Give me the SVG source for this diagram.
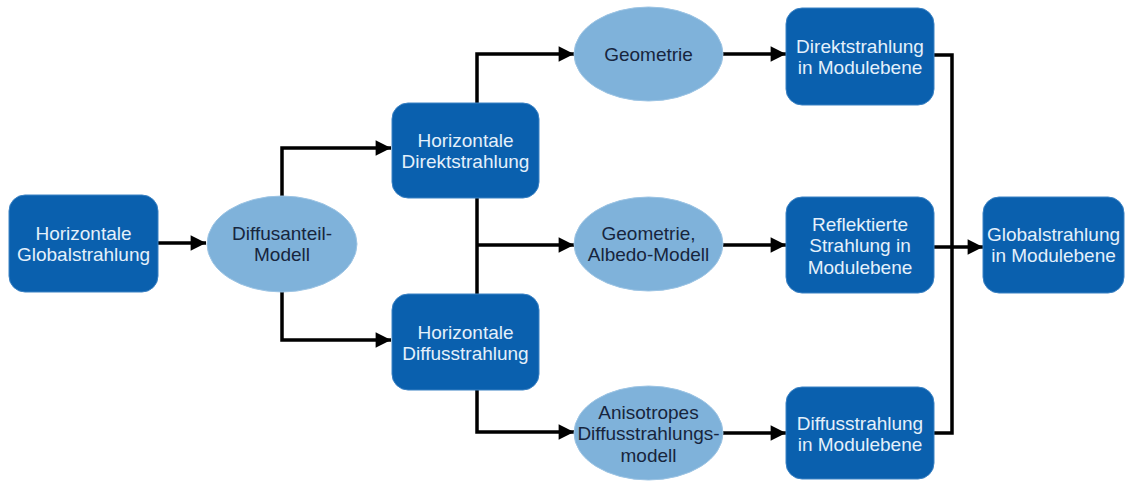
<svg xmlns="http://www.w3.org/2000/svg" width="1126" height="481" viewBox="0 0 1126 481">
<defs>
<style>
.box{fill:#0a60ae;stroke:#3b82c4;stroke-width:1}
.ell{fill:#7fb2da;stroke:#9cc4e4;stroke-width:1}
.bt{font-family:"Liberation Sans",Arial,sans-serif;font-size:19px;fill:#e4f0fb;text-anchor:middle}
.et{font-family:"Liberation Sans",Arial,sans-serif;font-size:19px;fill:#17253d;text-anchor:middle}
.c{fill:none;stroke:#000;stroke-width:3.5}
</style>
<marker id="ah" viewBox="0 0 10 10" refX="10" refY="5" markerWidth="5" markerHeight="4.4" markerUnits="strokeWidth" orient="auto">
<path d="M0,0 L10,5 L0,10 Z" fill="#000"/>
</marker>
</defs>
<rect width="1126" height="481" fill="#fff"/>
<g id="connectors">
<path class="c" d="M158,243 H206" marker-end="url(#ah)"/>
<path class="c" d="M282,197 V148 H391" marker-end="url(#ah)"/>
<path class="c" d="M282,290 V340 H391" marker-end="url(#ah)"/>
<path class="c" d="M477,103 V54 H574" marker-end="url(#ah)"/>
<path class="c" d="M477,198 V294"/>
<path class="c" d="M477,245 H574" marker-end="url(#ah)"/>
<path class="c" d="M477,390 V432 H574" marker-end="url(#ah)"/>
<path class="c" d="M723,54 H786" marker-end="url(#ah)"/>
<path class="c" d="M723,245 H786" marker-end="url(#ah)"/>
<path class="c" d="M723,433 H786" marker-end="url(#ah)"/>
<path class="c" d="M934,55 H952 V433 H934"/>
<path class="c" d="M934,247 H983" marker-end="url(#ah)"/>
</g>
<g id="n1"><rect class="box" x="9" y="195" width="149" height="97" rx="16"/>
<text class="bt" x="83.5" y="240">Horizontale</text><text class="bt" x="83.5" y="261">Globalstrahlung</text></g>
<g id="n2"><ellipse class="ell" cx="282" cy="244" rx="75" ry="48"/>
<text class="et" x="282" y="240">Diffusanteil-</text><text class="et" x="282" y="261">Modell</text></g>
<g id="n3"><rect class="box" x="392" y="103" width="147" height="95" rx="16"/>
<text class="bt" x="465.5" y="147">Horizontale</text><text class="bt" x="465.5" y="168">Direktstrahlung</text></g>
<g id="n4"><rect class="box" x="392" y="294" width="147" height="96" rx="16"/>
<text class="bt" x="465.5" y="339">Horizontale</text><text class="bt" x="465.5" y="360">Diffusstrahlung</text></g>
<g id="n5"><ellipse class="ell" cx="648.5" cy="54" rx="74.5" ry="47"/>
<text class="et" x="648.5" y="61">Geometrie</text></g>
<g id="n6"><ellipse class="ell" cx="648.5" cy="244" rx="74.5" ry="47"/>
<text class="et" x="648.5" y="240">Geometrie,</text><text class="et" x="648.5" y="261">Albedo-Modell</text></g>
<g id="n7"><ellipse class="ell" cx="648.5" cy="433" rx="74.5" ry="47"/>
<text class="et" x="648.5" y="419">Anisotropes</text><text class="et" x="648.5" y="440">Diffusstrahlungs-</text><text class="et" x="648.5" y="462">modell</text></g>
<g id="n8"><rect class="box" x="786" y="8" width="148" height="97" rx="16"/>
<text class="bt" x="860" y="53">Direktstrahlung</text><text class="bt" x="860" y="74">in Modulebene</text></g>
<g id="n9"><rect class="box" x="786" y="197" width="148" height="96" rx="16"/>
<text class="bt" x="860" y="231">Reflektierte</text><text class="bt" x="860" y="252">Strahlung in</text><text class="bt" x="860" y="274">Modulebene</text></g>
<g id="n10"><rect class="box" x="786" y="387" width="148" height="92" rx="16"/>
<text class="bt" x="860" y="430">Diffusstrahlung</text><text class="bt" x="860" y="451">in Modulebene</text></g>
<g id="n11"><rect class="box" x="983" y="197" width="141" height="96" rx="16"/>
<text class="bt" x="1053.5" y="241">Globalstrahlung</text><text class="bt" x="1053.5" y="262">in Modulebene</text></g>
</svg>
